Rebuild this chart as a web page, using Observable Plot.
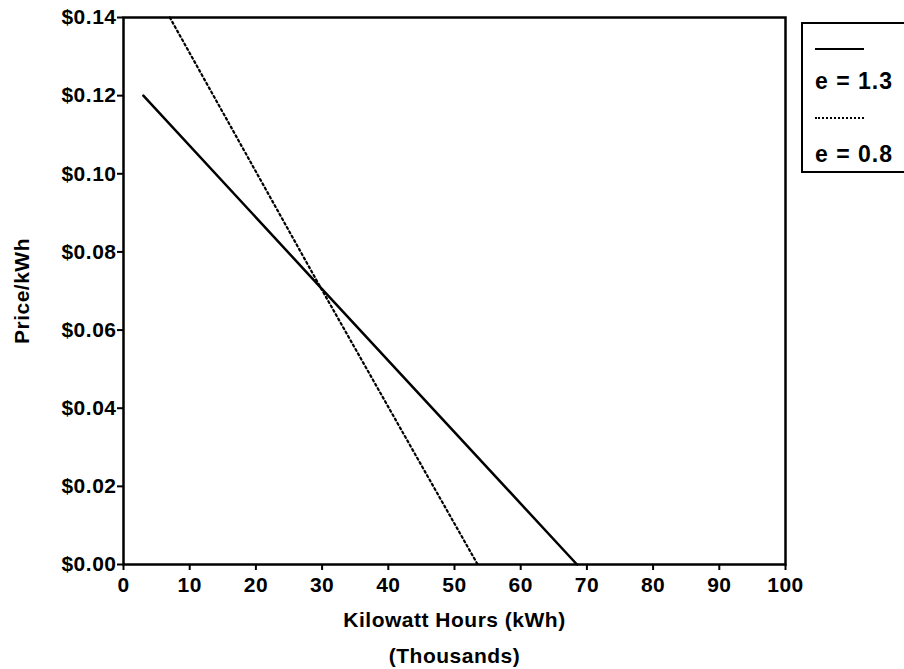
<!DOCTYPE html>
<html>
<head>
<meta charset="utf-8">
<script src="https://cdn.jsdelivr.net/npm/d3@7"></script>
<script src="https://cdn.jsdelivr.net/npm/@observablehq/plot@0.6"></script>
<style>
  html, body { margin: 0; padding: 0; background: #fff; }
  #wrap { position: relative; width: 904px; height: 669px; overflow: hidden; font-family: "Liberation Sans", Arial, sans-serif; }
  #legend { position: absolute; left: 801px; top: 22px; width: 120px; height: 147px; border: 2.5px solid #000; background: #fff; }
  .sw { position: absolute; left: 12px; width: 49px; height: 0; }
  .lab { position: absolute; left: 12px; font-weight: bold; font-size: 23px; letter-spacing: 1px; line-height: 1; color: #000; }
</style>
</head>
<body>
<div id="wrap"></div>
<script>
// Data
const seriesNames = ["e = 1.3", "e = 0.8"];
const quantityE13 = [3, 30, 68.5];      // thousands of kWh
const priceE13 = [0.12, 0.0705, 0.0];   // $/kWh
const quantityE08 = [7, 30, 53.5];
const priceE08 = [0.14, 0.0702, 0.0];
const xTicks = [0, 10, 20, 30, 40, 50, 60, 70, 80, 90, 100];
const yTicks = [0, 0.02, 0.04, 0.06, 0.08, 0.10, 0.12, 0.14];
const xLabel = "Kilowatt Hours (kWh)\n(Thousands)";
const yLabel = "Price/kWh";

const e13 = quantityE13.map((q, i) => ({q, p: priceE13[i]}));
const e08 = quantityE08.map((q, i) => ({q, p: priceE08[i]}));

const chart = Plot.plot({
  width: 904,
  height: 669,
  marginLeft: 123,
  marginRight: 119,
  marginTop: 17,
  marginBottom: 105,
  style: {fontFamily: "Liberation Sans, Arial, sans-serif", fontWeight: "bold", fontSize: "21px", color: "#000", background: "#fff"},
  x: {domain: [0, 100]},
  y: {domain: [0, 0.14]},
  marks: [
    Plot.frame({stroke: "#000", strokeWidth: 2.5}),
    Plot.axisX({ticks: xTicks, tickSize: 6, tickPadding: 7, tickFormat: d3.format("d"), label: null, strokeWidth: 2, fontSize: 21, fontWeight: "bold"}),
    Plot.axisY({ticks: yTicks, tickSize: 6, tickPadding: 1, tickFormat: d3.format("$.2f"), label: null, strokeWidth: 2, fontSize: 21, fontWeight: "bold"}),
    Plot.line(e13, {x: "q", y: "p", stroke: "#000", strokeWidth: 2.5}),
    Plot.line(e08, {x: "q", y: "p", stroke: "#000", strokeWidth: 2.2, strokeDasharray: "2,3"}),
    Plot.text([xLabel], {frameAnchor: "bottom", lineAnchor: "top", dy: 37, lineHeight: 1.7, fontSize: 21, fontWeight: "bold", fill: "#000"}),
    Plot.text([yLabel], {frameAnchor: "left", textAnchor: "middle", rotate: -90, dx: -101, fontSize: 21, fontWeight: "bold", fill: "#000"})
  ]
});
chart.style.letterSpacing = "0.5px";
const wrap = document.getElementById("wrap");
wrap.appendChild(chart);

// Legend (line swatches + labels) placed to the right of the frame
const legend = document.createElement("div");
legend.id = "legend";
const styles = ["2.5px solid #000", "2px dotted #000"];
const swTops = [24, 93];
const labTops = [46, 119];
seriesNames.forEach((name, i) => {
  const sw = document.createElement("div");
  sw.className = "sw";
  sw.style.top = swTops[i] + "px";
  sw.style.borderTop = styles[i];
  legend.appendChild(sw);
  const lab = document.createElement("div");
  lab.className = "lab";
  lab.style.top = labTops[i] + "px";
  lab.textContent = name;
  legend.appendChild(lab);
});
wrap.appendChild(legend);
</script>
</body>
</html>
